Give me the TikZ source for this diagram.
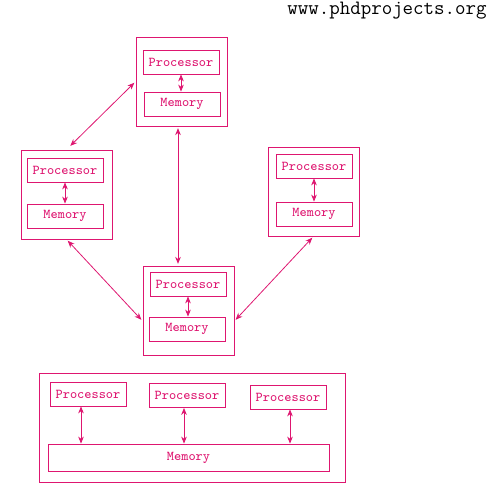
\documentclass[tikz,border=0pt]{standalone}
\usepackage{xcolor}
\usepackage{tikz}
\usetikzlibrary{arrows.meta,calc}
\definecolor{mag}{RGB}{222,22,112}

\begin{document}
\begin{tikzpicture}[
  x=0.02cm, y=-0.02cm,
  >={Stealth[length=4pt,width=3.2pt]},
  every node/.style={font=\ttfamily\fontsize{7.7}{9}\selectfont, text=mag},
  outerbox/.style={draw=mag, line width=0.45pt, inner sep=0,
    minimum width=1.82cm, minimum height=1.78cm},
  procbox/.style={draw=mag, line width=0.45pt, inner sep=0,
    minimum width=1.52cm, minimum height=0.48cm},
  membox/.style={procbox},
  link/.style={<->, draw=mag, line width=0.45pt},
]
\useasboundingbox (0,0) rectangle (500,500);
% Site name
\node[text=black, anchor=north, inner sep=0, font=\ttfamily\fontsize{11.6}{13}\selectfont] (site) at (387,2) {www.phdprojects.org};
% Top node
\node[outerbox] (T) at (181.5,81.5) {};
\node[procbox] (Tp) at (181,62) {Processor};
\node[membox] (Tm) at (182,104) {Memory};
% Left node
\node[outerbox] (L) at (66.5,194.5) {};
\node[procbox] (Lp) at (65,170) {Processor};
\node[membox] (Lm) at (65,216) {Memory};
% Right node
\node[outerbox] (R) at (313.5,191.5) {};
\node[procbox] (Rp) at (314,166) {Processor};
\node[membox] (Rm) at (314,214) {Memory};
% Centre node
\node[outerbox] (C) at (188.5,310.5) {};
\node[procbox] (Cp) at (188,284) {Processor};
\node[membox] (Cm) at (187,329) {Memory};
% Shared memory block
\node[draw=mag, line width=0.45pt, minimum width=6.12cm, minimum height=2.18cm] (S) at (192,427.5) {};
\node[procbox] (S1) at (88,394) {Processor};
\node[procbox] (S2) at (187,395.5) {Processor};
\node[procbox] (S3) at (288,397) {Processor};
\node[membox, minimum width=5.62cm, minimum height=0.54cm] (Sm) at (188.5,457.5) {Memory};

% Arrows inside nodes
\draw[link] (Tp.south) -- (Tp.south |- Tm.north);
\draw[link] (Lp.south) -- (Lp.south |- Lm.north);
\draw[link] (Rp.south) -- (Rp.south |- Rm.north);
\draw[link] (Cp.south) -- (Cp.south |- Cm.north);
% Arrows between nodes
\draw[link, shorten <=1pt, shorten >=3pt] (T.west) -- (L.north);
\draw[link, shorten <=1pt, shorten >=1pt] ([xshift=-0.07cm]T.south) -- ([xshift=-0.07cm]T.south |- C.north);
\draw[link, shorten <=1pt, shorten >=1pt] (L.south) -- (C.193);
\draw[link, shorten <=1pt, shorten >=1pt] (R.south) -- (C.347);
% Shared memory arrows
\draw[link] ([xshift=-0.14cm]S1.south) -- ([xshift=-0.14cm]S1.south |- Sm.north);
\draw[link] ([xshift=-0.06cm]S2.south) -- ([xshift=-0.06cm]S2.south |- Sm.north);
\draw[link] ([xshift=0.04cm]S3.south) -- ([xshift=0.04cm]S3.south |- Sm.north);
\end{tikzpicture}
\end{document}
